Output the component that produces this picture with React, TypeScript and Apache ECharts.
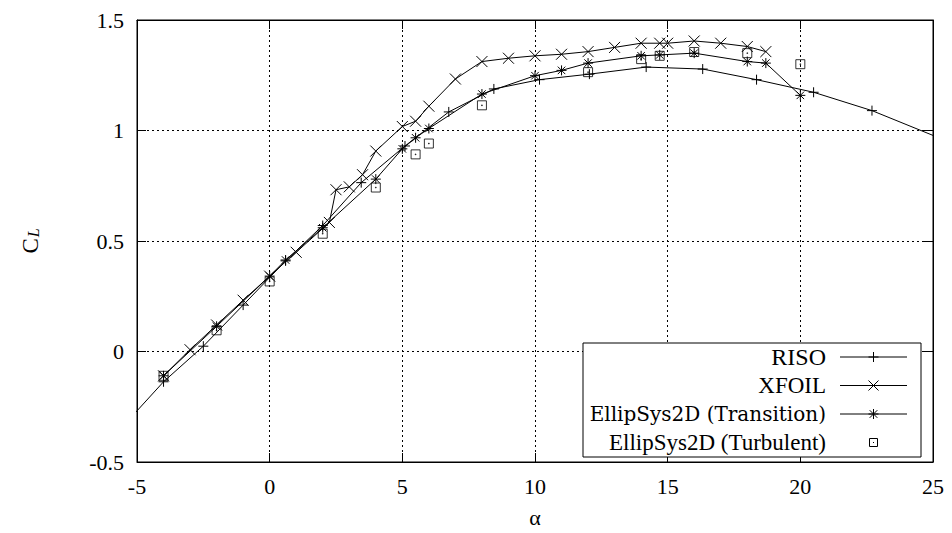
import React, { useEffect, useRef } from "react";
import * as echarts from "echarts";

// ---- data ----
const RISO_ALPHA = [-6, -4, -2.5, -1, 0.6, 2, 3.45, 5.1, 6.75, 8.45, 10.17, 12.05, 14.19, 16.32, 18.35, 20.5, 22.7, 26];
const RISO_CL = [-0.4, -0.137, 0.024, 0.21, 0.41, 0.57, 0.764, 0.93, 1.084, 1.188, 1.23, 1.255, 1.287, 1.278, 1.23, 1.173, 1.09, 0.929];

const XFOIL_ALPHA = [-4, -3, -2, -1, 0, 1, 2.25, 2.5, 3, 3.5, 4, 5, 5.5, 6, 7, 8, 9, 10, 11, 12, 13, 14, 14.7, 15, 16, 17, 18, 18.7];
const XFOIL_CL = [-0.11, 0.008, 0.12, 0.232, 0.341, 0.449, 0.584, 0.732, 0.745, 0.8, 0.907, 1.018, 1.042, 1.11, 1.233, 1.312, 1.327, 1.338, 1.345, 1.357, 1.376, 1.395, 1.395, 1.395, 1.405, 1.395, 1.38, 1.357];

const TRANS_ALPHA = [-4, -2, 0, 0.6, 2, 4, 5, 5.5, 6, 8, 10, 11, 12, 14, 14.7, 16, 18, 18.7, 20];
const TRANS_CL = [-0.11, 0.114, 0.341, 0.414, 0.56, 0.78, 0.917, 0.967, 1.009, 1.165, 1.248, 1.272, 1.305, 1.338, 1.342, 1.35, 1.312, 1.305, 1.159];

const TURB_ALPHA = [-4, -2, 0, 2, 4, 5.5, 6, 8, 12, 14, 14.7, 16, 18, 20];
const TURB_CL = [-0.11, 0.096, 0.317, 0.533, 0.742, 0.892, 0.941, 1.114, 1.264, 1.323, 1.338, 1.355, 1.35, 1.3];

const SERIES_NAMES = ["RISO", "XFOIL", "EllipSys2D (Transition)", "EllipSys2D (Turbulent)"];

const X_MIN = -5, X_MAX = 25, X_STEP = 5;
const Y_MIN = -0.5, Y_MAX = 1.5, Y_STEP = 0.5;

const FONT = "Liberation Serif";
const ROW_FONTS = [
  { fontFamily: "Liberation Serif", fontSize: 24 },
  { font: "23px Liberation Serif" },
  { fontFamily: "DejaVu Serif", fontSize: 20 },
  { fontFamily: "Times", fontSize: 23 },
];

const SYM_PLUS = "path://M0,-1L0,1M-1,0L1,0";
const SYM_CROSS = "path://M-1,-1L1,1M-1,1L1,-1";
const SYM_STAR = "path://M0,-1L0,1M-1,0L1,0M-0.75,-0.75L0.75,0.75M-0.75,0.75L0.75,-0.75";
const SYM_BOX = "path://M-1,-1L1,-1L1,1L-1,1ZM-0.08,-0.08L0.08,-0.08L0.08,0.08L-0.08,0.08Z";

const zip = (a: number[], b: number[]) => a.map((v, i) => [v, b[i]]);

function legendGraphic() {
  const boxX = 583, boxY = 343, boxW = 338, boxH = 114;
  const textX = 826, lineX1 = 840, lineX2 = 907, mx = 873.5;
  const rows = [357, 385.5, 414, 442.5];
  const els: any[] = [];
  els.push({
    type: "rect",
    shape: { x: boxX, y: boxY, width: boxW, height: boxH },
    style: { fill: "#fff", stroke: "#000", lineWidth: 1 },
    z: 100,
  });
  SERIES_NAMES.forEach((name, i) => {
    const y = rows[i];
    els.push({
      type: "text",
      x: textX,
      y,
      style: { text: name, fill: "#000", ...ROW_FONTS[i], align: "right", verticalAlign: "middle" },
      z: 101,
    });
    if (i < 3) {
      els.push({ type: "line", shape: { x1: lineX1, y1: y, x2: lineX2, y2: y }, style: { stroke: "#000", lineWidth: 1 }, z: 101 });
    }
    const s = 5;
    if (i === 0 || i === 2) {
      els.push({ type: "line", shape: { x1: mx, y1: y - s, x2: mx, y2: y + s }, style: { stroke: "#000", lineWidth: 1 }, z: 102 });
      els.push({ type: "line", shape: { x1: mx - s, y1: y, x2: mx + s, y2: y }, style: { stroke: "#000", lineWidth: 1 }, z: 102 });
    }
    if (i === 1 || i === 2) {
      const t = i === 2 ? 3.8 : 5;
      els.push({ type: "line", shape: { x1: mx - t, y1: y - t, x2: mx + t, y2: y + t }, style: { stroke: "#000", lineWidth: 1 }, z: 102 });
      els.push({ type: "line", shape: { x1: mx - t, y1: y + t, x2: mx + t, y2: y - t }, style: { stroke: "#000", lineWidth: 1 }, z: 102 });
    }
    if (i === 3) {
      els.push({ type: "rect", shape: { x: mx - 4, y: y - 4, width: 8, height: 8 }, style: { fill: "none", stroke: "#000", lineWidth: 1 }, z: 102 });
      els.push({ type: "rect", shape: { x: mx - 0.5, y: y - 0.5, width: 1, height: 1 }, style: { fill: "#000" }, z: 102 });
    }
  });
  return els;
}

export default function App() {
  const ref = useRef<HTMLDivElement>(null);
  useEffect(() => {
    if (!ref.current) return;
    const chart = echarts.init(ref.current, undefined, { renderer: "svg" });
    const axisCommon = {
      type: "value" as const,
      axisLine: { show: true, onZero: false, lineStyle: { color: "#000", width: 1 } },
      axisTick: { show: true, inside: true, length: 9, lineStyle: { color: "#000", width: 1 } },
    };
    const lineBase = (name: string, data: number[][], symbol: string, size: number) => ({
      name,
      type: "line",
      data,
      symbol,
      symbolSize: size,
      showSymbol: true,
      showAllSymbol: true,
      clip: true,
      lineStyle: { color: "#000", width: 1 },
      itemStyle: { color: "transparent", borderColor: "#000", borderWidth: 1 },
      z: 3,
    });
    chart.setOption({
      animation: false,
      grid: { left: 137, right: 19, top: 20, bottom: 69, show: true, borderColor: "#000", borderWidth: 1 },
      xAxis: [
        {
          ...axisCommon,
          min: X_MIN, max: X_MAX, interval: X_STEP,
          position: "bottom",
          axisLabel: { color: "#000", fontSize: 22, fontFamily: FONT, margin: 13 },
          splitLine: { show: true, lineStyle: { color: "#000", width: 1, type: [2, 3] } },
          name: "α",
          nameLocation: "middle",
          nameGap: 44,
          nameTextStyle: { color: "#000", fontSize: 22, fontFamily: FONT },
        },
        {
          ...axisCommon,
          min: X_MIN, max: X_MAX, interval: X_STEP,
          position: "top",
          axisLabel: { show: false },
          splitLine: { show: false },
        },
      ],
      yAxis: [
        {
          ...axisCommon,
          min: Y_MIN, max: Y_MAX, interval: Y_STEP,
          position: "left",
          axisLabel: { color: "#000", fontSize: 22, fontFamily: "serif", margin: 13 },
          splitLine: { show: true, lineStyle: { color: "#000", width: 1, type: [2, 3] } },
          name: "{c|C}{l|L}",
          nameLocation: "middle",
          nameRotate: 90,
          nameGap: 96,
          nameTextStyle: {
            color: "#000",
            fontFamily: FONT,
            rich: {
              c: { fontSize: 23, fontFamily: FONT, color: "#000", lineHeight: 22, verticalAlign: "top" },
              l: { fontSize: 16, fontFamily: FONT, color: "#000", fontStyle: "italic", lineHeight: 16, padding: [12, 0, 0, 1], verticalAlign: "bottom" },
            },
          },
        },
        {
          ...axisCommon,
          min: Y_MIN, max: Y_MAX, interval: Y_STEP,
          position: "right",
          axisLabel: { show: false },
          splitLine: { show: false },
        },
      ],
      series: [
        lineBase(SERIES_NAMES[0], zip(RISO_ALPHA, RISO_CL), SYM_PLUS, 10),
        lineBase(SERIES_NAMES[1], zip(XFOIL_ALPHA, XFOIL_CL), SYM_CROSS, 11),
        lineBase(SERIES_NAMES[2], zip(TRANS_ALPHA, TRANS_CL), SYM_STAR, 10),
        {
          name: SERIES_NAMES[3],
          type: "scatter",
          data: zip(TURB_ALPHA, TURB_CL),
          symbol: SYM_BOX,
          symbolSize: 9,
          itemStyle: { color: "transparent", borderColor: "#000", borderWidth: 1 },
          z: 4,
        },
      ],
      graphic: legendGraphic(),
    });
    return () => chart.dispose();
  }, []);
  return <div ref={ref} style={{ width: 952, height: 533, marginLeft: -8, marginTop: -8 }} />;
}
